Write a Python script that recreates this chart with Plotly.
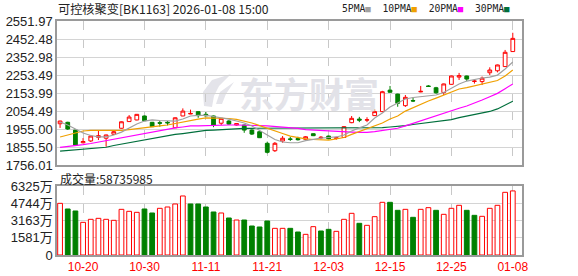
import plotly.graph_objects as go

# ---------------- data ----------------
dates = [
    "2025-10-15", "2025-10-16", "2025-10-17", "2025-10-20", "2025-10-21", "2025-10-22", "2025-10-23", "2025-10-24",
    "2025-10-27", "2025-10-28", "2025-10-29", "2025-10-30", "2025-10-31",
    "2025-11-03", "2025-11-04", "2025-11-05", "2025-11-06", "2025-11-07", "2025-11-10", "2025-11-11",
    "2025-11-12", "2025-11-13", "2025-11-14", "2025-11-17", "2025-11-18", "2025-11-19", "2025-11-20",
    "2025-11-21", "2025-11-24", "2025-11-25", "2025-11-26", "2025-11-27", "2025-11-28",
    "2025-12-01", "2025-12-02", "2025-12-03", "2025-12-04", "2025-12-05", "2025-12-08", "2025-12-09",
    "2025-12-10", "2025-12-11", "2025-12-12", "2025-12-15", "2025-12-16", "2025-12-17", "2025-12-18",
    "2025-12-19", "2025-12-22", "2025-12-23", "2025-12-24", "2025-12-25", "2025-12-26", "2025-12-29",
    "2025-12-30", "2025-12-31", "2026-01-05", "2026-01-06", "2026-01-07", "2026-01-08",
]

open_ = [1984, 1992, 1949, 1879, 1889, 1909, 1904, 1926, 1959, 1996,
         2005, 2027, 1992, 1990, 1992, 1962, 2027, 2038, 2051, 2036,
         2027, 1987, 1999, 1977, 1977, 1949, 1940, 1876, 1835, 1889,
         1900, 1902, 1898, 1929, 1906, 1916, 1903, 1908, 1990, 2010,
         2004, 2029, 2051, 2170, 2148, 2084, 2112, 2160, 2193, 2183,
         2157, 2202, 2242, 2248, 2218, 2217, 2266, 2277, 2300, 2383]
high = [2001, 1995, 1950, 1905, 1917, 1949, 1924, 1944, 1997, 2032,
        2038, 2029, 1994, 2000, 1999, 2019, 2069, 2062, 2053, 2049,
        2029, 2016, 2004, 1987, 1979, 1953, 1942, 1885, 1883, 1916,
        1911, 1912, 1916, 1931, 1916, 1918, 1913, 1970, 2027, 2022,
        2020, 2064, 2166, 2193, 2150, 2143, 2128, 2193, 2198, 2188,
        2206, 2250, 2265, 2250, 2231, 2245, 2296, 2311, 2392, 2487]
low = [1961, 1950, 1861, 1875, 1883, 1894, 1857, 1922, 1957, 1994,
       2003, 1999, 1966, 1968, 1975, 1960, 2026, 2037, 2017, 2025,
       1965, 1977, 1977, 1974, 1934, 1922, 1905, 1820, 1828, 1879,
       1889, 1891, 1889, 1916, 1898, 1898, 1896, 1906, 1987, 1993,
       1993, 2027, 2049, 2155, 2078, 2077, 2104, 2158, 2188, 2150,
       2143, 2200, 2226, 2220, 2206, 2198, 2253, 2268, 2298, 2381]
close = [1999, 1955, 1866, 1886, 1916, 1918, 1922, 1940, 1995, 2021,
         2036, 2001, 1968, 1987, 1989, 2017, 2054, 2041, 2029, 2028,
         1977, 2014, 1982, 1985, 1949, 1927, 1907, 1826, 1876, 1904,
         1898, 1896, 1912, 1918, 1909, 1901, 1906, 1968, 2014, 2004,
         2006, 2051, 2161, 2158, 2097, 2130, 2110, 2163, 2190, 2155,
         2204, 2248, 2250, 2231, 2220, 2236, 2281, 2309, 2379, 2456]
prev_close_before_start = 1985

ma5 = [1994, 1977, 1955, 1933, 1919, 1911, 1911, 1922, 1938, 1961,
       1983, 1999, 2005, 2002, 1999, 1999, 2010, 2027, 2030, 2030,
       2024, 2019, 2010, 1999, 1988, 1972, 1949, 1922, 1897, 1883,
       1879, 1879, 1891, 1900, 1905, 1908, 1911, 1922, 1944, 1961,
       1977, 2016, 2043, 2077, 2099, 2121, 2129, 2135, 2137, 2143,
       2157, 2179, 2204, 2220, 2229, 2237, 2242, 2253, 2287, 2325]
ma10 = [1911, 1922, 1936, 1944, 1947, 1947, 1947, 1944, 1947, 1952,
        1958, 1961, 1966, 1972, 1977, 1985, 1994, 2005, 2010, 2016,
        2016, 2016, 2013, 2008, 1999, 1988, 1974, 1958, 1944, 1930,
        1916, 1908, 1900, 1897, 1894, 1894, 1900, 1908, 1925, 1941,
        1955, 1969, 1988, 2010, 2027, 2054, 2074, 2093, 2110, 2126,
        2143, 2162, 2176, 2184, 2193, 2201, 2212, 2223, 2248, 2281]
ma20 = [1854, 1858, 1864, 1869, 1875, 1883, 1889, 1897, 1905, 1914,
        1922, 1930, 1938, 1947, 1952, 1961, 1966, 1972, 1972, 1974,
        1974, 1977, 1977, 1977, 1977, 1977, 1974, 1972, 1969, 1966,
        1961, 1958, 1952, 1949, 1947, 1947, 1944, 1941, 1938, 1936,
        1936, 1941, 1947, 1952, 1959, 1972, 1986, 2000, 2015, 2030,
        2046, 2059, 2070, 2082, 2097, 2115, 2133, 2152, 2178, 2204]
ma30 = [1833, 1836, 1839, 1843, 1847, 1850, 1854, 1864, 1872, 1880,
        1889, 1897, 1902, 1911, 1919, 1925, 1930, 1936, 1941, 1947,
        1949, 1952, 1955, 1957, 1958, 1959, 1959, 1959, 1959, 1959,
        1959, 1959, 1959, 1959, 1959, 1959, 1959, 1959, 1959, 1959,
        1959, 1961, 1963, 1966, 1969, 1974, 1980, 1985, 1991, 1995,
        2002, 2007, 2018, 2027, 2035, 2041, 2052, 2066, 2086, 2108]

# volume in 万 (10k shares)
volume_wan = [4736, 4217, 4034, 2994, 3270, 3361, 3270, 3178, 4186, 4003,
              3911, 4217, 3850, 4278, 4400, 4675, 5409, 4675, 4675, 4400,
              3942, 3850, 3392, 3208, 3208, 2658, 2567, 3117, 2444, 2444,
              2444, 2108, 1894, 2597, 2200, 2353, 2169, 3270, 3820, 2903,
              2719, 3514, 4828, 4828, 4095, 4186, 3453, 4186, 4339, 4095,
              3728, 4278, 4553, 4095, 3636, 3545, 4278, 4553, 5745, 5873.5985]
latest_volume = 58735985

x_tick_dates = ["2025-10-20", "2025-10-30", "2025-11-11", "2025-11-21",
                "2025-12-03", "2025-12-15", "2025-12-25", "2026-01-08"]
x_tick_labels = ["10-20", "10-30", "11-11", "11-21", "12-03", "12-15", "12-25", "01-08"]
price_tick_labels = ["1756.01", "1855.50", "1955.00", "2054.49", "2153.99",
                     "2253.49", "2352.98", "2452.48", "2551.97"]
vol_tick_values = [0, 1581.25, 3162.5, 4743.75, 6325]
vol_tick_labels = ["0", "1581万", "3163万", "4744万", "6325万"]
title_text = "可控核聚变[BK1163] 2026-01-08 15:00"
ma_names = ["5PMA", "10PMA", "20PMA", "30PMA"]

# ---------------- styles ----------------
RED = "#ff0000"
GREEN = "#008000"
MA_COLORS = ["#a0a0a0", "#f0a000", "#ff00ff", "#006f3c"]
GRID = "#d4d4d4"
BORDER = "#9a9a9a"
TXT = "#222222"
CJK = "Noto Sans CJK SC"
LAT = "Liberation Sans, Arial"
MONO = "DejaVu Sans Mono, Liberation Mono"

fig = go.Figure()

fig.add_trace(go.Candlestick(
    x=dates, open=open_, high=high, low=low, close=close,
    increasing=dict(line=dict(color=RED, width=1), fillcolor="#ffffff"),
    decreasing=dict(line=dict(color=GREEN, width=1), fillcolor=GREEN),
    whiskerwidth=0, xaxis="x", yaxis="y", hoverinfo="skip",
))

for vals, col in zip([ma30, ma20, ma10, ma5], MA_COLORS[::-1]):
    fig.add_trace(go.Scatter(x=dates, y=vals, mode="lines",
                             line=dict(color=col, width=1.2),
                             xaxis="x", yaxis="y", hoverinfo="skip"))

prevs = [prev_close_before_start] + close[:-1]
up = [c >= p for c, p in zip(close, prevs)]
fig.add_trace(go.Bar(
    x=dates, y=volume_wan, width=0.62,
    marker=dict(color=["#ffffff" if u else GREEN for u in up],
                line=dict(color=[RED if u else GREEN for u in up], width=1)),
    xaxis="x2", yaxis="y2", hoverinfo="skip",
))

price_ticks = [float(t) for t in price_tick_labels]

xcommon = dict(type="category", range=[-0.4, 60.2], tickvals=x_tick_dates,
               showgrid=True, griddash="dash", gridcolor="#c8c8c8", gridwidth=1,
               showline=True, linecolor=BORDER, linewidth=1.5, mirror=True,
               ticks="", zeroline=False, fixedrange=True, automargin=False)

fig.update_layout(
    width=578, height=276,
    margin=dict(l=57, r=56, t=21, b=21, autoexpand=False),
    paper_bgcolor="#ffffff", plot_bgcolor="#ffffff",
    showlegend=False,
    xaxis=dict(**xcommon, anchor="y", showticklabels=False,
               rangeslider=dict(visible=False)),
    xaxis2=dict(**xcommon, anchor="y2", matches="x", showticklabels=True,
                ticktext=x_tick_labels,
                tickfont=dict(family=LAT, size=12, color=RED)),
    yaxis=dict(domain=[0.3846, 1.0], range=[price_ticks[0], price_ticks[-1]],
               tickvals=price_ticks, ticktext=price_tick_labels,
               tickfont=dict(family=LAT, size=13, color=TXT),
               showgrid=True, gridcolor=GRID, gridwidth=1,
               showline=True, linecolor=BORDER, linewidth=1.5, mirror=True,
               ticks="", zeroline=False, anchor="x", automargin=False),
    yaxis2=dict(domain=[0.0, 0.2949], range=[0, vol_tick_values[-1]],
                tickvals=vol_tick_values, ticktext=vol_tick_labels,
                tickfont=dict(family=LAT + ", " + CJK, size=13, color=TXT),
                showgrid=True, gridcolor=GRID, gridwidth=1,
                showline=True, linecolor=BORDER, linewidth=1.5, mirror=True,
                ticks="", zeroline=False, anchor="x2", automargin=False),
)


def px_x(p):
    return (p - 57) / 465.0


def px_y(p):
    return (255 - p) / 234.0


# watermark logo (decorative, behind the data)
logo = [(204, 106), (203, 92), (212, 80), (231, 74), (219, 86), (214, 96), (212, 107)]
logo2 = [(216, 104), (220, 92), (234, 82), (226, 94), (222, 104)]
for pts in (logo, logo2):
    path = "M " + " L ".join(f"{px_x(a):.4f},{px_y(b):.4f}" for a, b in pts) + " Z"
    fig.add_shape(type="path", path=path, xref="paper", yref="paper",
                  fillcolor="#e4e4ea", line=dict(width=0), layer="below")

fig.add_annotation(text="<b>东方财富</b>", xref="paper", yref="paper",
                   x=px_x(309), y=px_y(92), xanchor="center", yanchor="middle",
                   showarrow=False, font=dict(family=CJK, size=35, color="#e2e2e8"))

# title
fig.add_annotation(text=title_text, xref="paper", yref="paper",
                   x=px_x(56), y=px_y(9), xanchor="left", yanchor="middle",
                   showarrow=False, font=dict(family=CJK, size=12.2, color=TXT))

# MA legend
legend_html = "  ".join(
    f"{n}<span style='color:{c};font-size:9px'>■</span>" for n, c in zip(ma_names, MA_COLORS))
fig.add_annotation(text=legend_html, xref="paper", yref="paper",
                   x=px_x(512), y=px_y(9), xanchor="right", yanchor="middle",
                   showarrow=False, font=dict(family=MONO, size=9.7, color=TXT))

# volume label
fig.add_annotation(text=f"成交量:{latest_volume}", xref="paper", yref="paper",
                   x=px_x(58), y=px_y(178), xanchor="left", yanchor="middle",
                   showarrow=False, font=dict(family=CJK, size=12, color=TXT))

fig.write_html("out.html")
